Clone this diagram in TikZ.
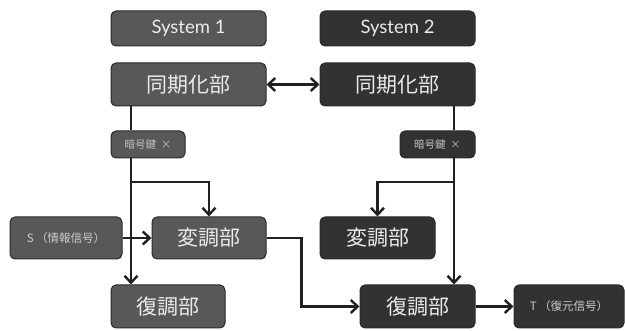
\documentclass[tikz,border=0pt]{standalone}
\usepackage{fontspec}
\setmainfont{Lato}
\newfontfamily\jp{Noto Sans CJK JP}
\usetikzlibrary{arrows.meta}
\definecolor{lfill}{HTML}{585858}
\definecolor{rfill}{HTML}{323232}
\definecolor{edgec}{HTML}{2A2A2A}
\definecolor{linec}{HTML}{202020}
\tikzset{
  box/.style={draw=edgec, line width=1pt, rounded corners=5pt, inner sep=0pt, text=white!92!black},
  lbox/.style={box, fill=lfill},
  rbox/.style={box, fill=rfill},
  big/.style={font=\jp\fontsize{21}{21}\selectfont},
  head/.style={minimum width=155pt, minimum height=35pt, font=\fontsize{18.5}{18.5}\selectfont},
  small/.style={font=\jp\fontsize{11.5}{11.5}\selectfont, text=white!80!black},
  tiny/.style={font=\jp\fontsize{10.5}{10.5}\selectfont, text=white!75!black, minimum height=27pt},
  conn/.style={draw=linec, line width=2.4pt, -{Straight Barb[length=7pt,width=13pt,line width=2.4pt]}},
  plain/.style={draw=linec, line width=2.4pt},
}
\begin{document}
\begin{tikzpicture}[x=1pt,y=-1pt]
\useasboundingbox (0,0) rectangle (625,331);
% header boxes
\node[lbox, head] (sys1) at (188.5,28.5) {System 1};
\node[rbox, head] (sys2) at (397.5,28.5) {System 2};
% sync
\node[lbox, big, minimum width=155pt, minimum height=43pt] (syncL) at (188.5,84.5) {同期化部};
\node[rbox, big, minimum width=155pt, minimum height=43pt] (syncR) at (397.5,84.5) {同期化部};
% key boxes
\node[lbox, tiny, minimum width=74pt] (keyL) at (148,144.5) {暗号鍵\ \ ×};
\node[rbox, tiny, minimum width=75pt] (keyR) at (437.5,144.5) {暗号鍵\ \ ×};
% left lower
\node[lbox, small, minimum width=112pt, minimum height=42pt] (S) at (66,238) {S\ （情報信号）};
\node[lbox, big, minimum width=114pt, minimum height=42pt] (modL) at (209,238) {変調部};
\node[lbox, big, minimum width=114pt, minimum height=43pt] (demL) at (168,306.5) {復調部};
% right lower
\node[rbox, big, minimum width=115pt, minimum height=42pt] (modR) at (377.5,238) {変調部};
\node[rbox, big, minimum width=115pt, minimum height=43pt] (demR) at (417.5,306.5) {復調部};
\node[rbox, small, minimum width=110pt, minimum height=43pt] (T) at (569,306.5) {T\ （復元信号）};
% coordinates
\coordinate (bL) at (131,182);
\coordinate (bR) at (454,182);
% connectors
\draw[draw=linec, line width=2.4pt, {Straight Barb[length=7pt,width=13pt,line width=2.4pt]}-{Straight Barb[length=7pt,width=13pt,line width=2.4pt]}] (syncL.east) -- (syncR.west);
\draw[plain] (syncL.south -| bL) -- (keyL.north -| bL);
\draw[plain] (syncR.south -| bR) -- (keyR.north -| bR);
\draw[conn] (keyL.south -| bL) -- (demL.north -| bL);
\draw[conn] (bL) -| (modL.north);
\draw[conn] (keyR.south -| bR) -- (demR.north -| bR);
\draw[conn] (bR) -| (modR.north);
\draw[conn] (S.east) -- (modL.west);
\draw[conn] (modL.east) -- ++(35,0) |- (demR.west);
\draw[conn] (demR.east) -- (T.west);
\end{tikzpicture}
\end{document}
